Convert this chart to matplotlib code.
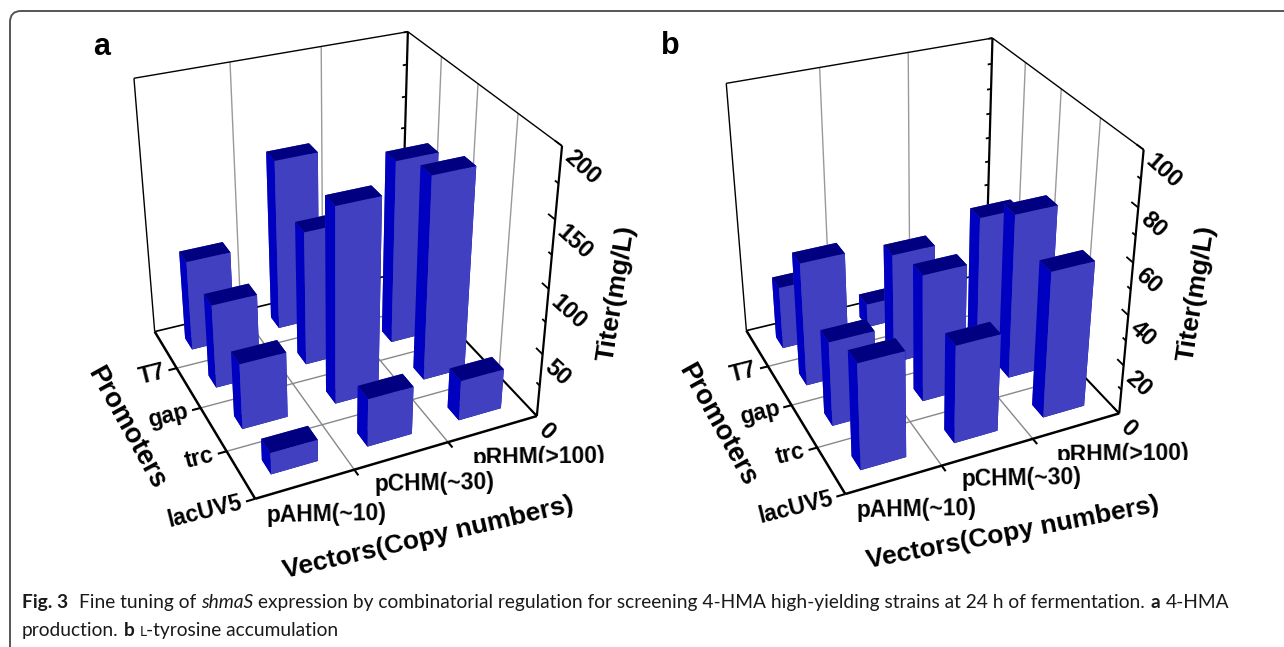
import numpy as np
import matplotlib
matplotlib.use('Agg')
from matplotlib import pyplot as plt
from matplotlib.patches import FancyBboxPatch
from matplotlib.transforms import Bbox
from mpl_toolkits.mplot3d import proj3d

W, H = 1284, 647

vectors = ['pAHM(~10)', 'pCHM(~30)', 'pRHM(>100)']
promoters = ['lacUV5', 'trc', 'gap', 'T7']

# titers per vector, in the order of promoters (no T7 pRHM bar can be seen, so 0)
a_pAHM = [17, 52, 67, 73]
a_pCHM = [38, 152, 107, 137]
a_pRHM = [32, 159, 146, 0]
b_pAHM = [42, 34, 50, 26]
b_pCHM = [39, 51, 45, 10]
b_pRHM = [58, 66, 52, 0]

top_color = '#000080'
side_color = '#0000c0'
front_color = '#4040c0'
bw, bd = 0.48, 0.31

plt.rcParams['font.family'] = 'Liberation Sans'
plt.rcParams['font.weight'] = 'bold'

fig = plt.figure(figsize=(W/100, H/100), dpi=100)

page = fig.add_axes([0, 0, 1, 1])
page.set_xlim(0, W)
page.set_ylim(H, 0)
page.axis('off')
page.add_patch(FancyBboxPatch((20, 21), W + 40, H + 40, boxstyle='round,pad=10,rounding_size=11',
                              fc='none', ec='#555555', lw=1.4))

def panel(rect, view, zmax, zmajor, zminor, columns, clip):
    l, b, w = rect
    ax = fig.add_axes([l/W, b/H, w/W, w/H], projection='3d')
    ax.set_xlim(0, 3, view_margin=0)
    ax.set_ylim(0, 4, view_margin=0)
    ax.set_zlim(0, zmax, view_margin=0)
    ax.set_box_aspect((1, view[3], view[4]))
    ax.view_init(view[0], view[1])
    ax.set_proj_type('persp', focal_length=view[2])
    ax.set_axis_off()
    ax.patch.set_visible(False)
    ax.computed_zorder = False
    ax.apply_aspect()
    M = ax.get_proj()

    def line(xs, ys, zs, c='black', lw=1.0):
        ax.plot(xs, ys, zs, color=c, lw=lw, clip_on=False, zorder=1, solid_capstyle='butt')

    # ax.text ignores rotation in 3d, so labels go on the page at the projected spot
    def label(x, y, z, s, **kw):
        xs, ys, _ = proj3d.proj_transform(x, y, z, M)
        px, py = ax.transData.transform((xs, ys))
        return page.text(px, H - py, s, rotation_mode='anchor', va='center', **kw)

    for x in [1, 2]:
        line([x, x], [0, 4], [0, 0], '#888888')
        line([x, x], [4, 4], [0, zmax], '#999999')
        line([x, x], [0, -0.12], [0, 0], lw=1.5)
    for y in [1, 2, 3]:
        line([0, 3], [y, y], [0, 0], '#888888')
        line([3, 3], [y, y], [0, zmax], '#999999')
    for y in [0, 1, 2, 3]:
        line([0, -0.09], [y, y], [0, 0], lw=1.5)
    line([0, 3], [4, 4], [0, 0], lw=1.2)
    line([3, 3], [0, 4], [0, 0], lw=1.5)
    line([0, 3], [0, 0], [0, 0], lw=1.8)
    line([0, 0], [0, 4], [0, 0], lw=1.8)
    line([0, 0], [4, 4], [0, zmax])
    line([0, 3], [4, 4], [zmax, zmax])
    line([3, 3], [4, 0], [zmax, zmax])
    line([3, 3], [0, 0], [0, zmax], lw=1.6)
    line([3, 3], [4, 4], [0, zmax], lw=1.6)

    for z in np.arange(0, zmax + zminor, zminor):
        major = z % zmajor == 0
        line([3, 3], [0, 0.16 if major else 0.08], [z, z], lw=1.3)
        line([3, 2.95], [4, 4], [z, z], lw=1.3)
    for z in np.arange(0, zmax + zmajor, zmajor):
        label(2.95, -0.22, z, str(int(z)), fontsize=17, rotation=-42, ha='left')

    for i, name in enumerate(promoters):
        label(-0.13, i, 0, name, fontsize=16.5, rotation=14, ha='right')
    for i, name in enumerate(vectors):
        t = label([0.01, 0.08, 0.09][i] + i, [-0.33, -0.35, -0.42][i], 0, name,
                  fontsize=16.5, rotation=1, ha='left')
        if i == 2:
            t.set_clip_box(Bbox([[0, H - clip[1]], [clip[0], H]]))
            t.set_clip_on(True)

    # back to front, so nearer bars paint over farther ones
    order = 2
    for y in range(3, -1, -1):
        for x in range(2, -1, -1):
            if columns[x][y] > 0:
                ax.bar3d(x + 0.5 - bw/2, y + 0.5 - bd/2, 0, bw, bd, columns[x][y],
                         color=[top_color, top_color, front_color, front_color, side_color, side_color],
                         shade=False, linewidth=0, edgecolor='none', zorder=order)
            order += 1
    return ax

panel((74.7, 136.2, 510.8), (30.40, -114.32, 0.491, 1.001, 0.993), 200, 50, 25,
      [a_pAHM, a_pCHM, a_pRHM], (607, 463))
panel((668.2, 141.4, 498.5), (30.34, -114.39, 0.492, 1.008, 0.996), 100, 20, 10,
      [b_pAHM, b_pCHM, b_pRHM], (1188, 460))

titles = [('a', 102, 47, 0, 22), ('b', 670, 46, 0, 22),
          ('Promoters', 126, 428, -61, 19.5), ('Vectors(Copy numbers)', 428, 538, 13, 19),
          ('Titer(mg/L)', 617, 293, 81, 19),
          ('Promoters', 717, 425, -61, 19.5), ('Vectors(Copy numbers)', 1013, 533, 11, 19),
          ('Titer(mg/L)', 1197, 293, 81, 19)]
for s, x, y, rot, size in titles:
    page.text(x, y, s, fontsize=size, rotation=rot, ha='center', va='center', rotation_mode='anchor')

def caption(x, y, runs):
    r = fig.canvas.get_renderer()
    for s, weight, style, size, gap in runs:
        t = page.text(x, y, s, fontsize=size, fontweight=weight, fontstyle=style,
                      family='Lato', color='#1a1a1a', va='baseline', ha='left')
        x += t.get_window_extent(r).width + gap

caption(22, 608, [('Fig. 3', 'bold', 'normal', 13.75, 11), ('Fine tuning of', 'normal', 'normal', 13.75, 4.5),
                  ('shmaS', 'normal', 'italic', 13.75, 4.5),
                  ('expression by combinatorial regulation for screening 4-HMA high-yielding strains at 24 h of fermentation.', 'normal', 'normal', 13.75, 6),
                  ('a', 'bold', 'normal', 13.75, 6), ('4-HMA', 'normal', 'normal', 13.75, 0)])
caption(22, 636, [('production.', 'normal', 'normal', 13.75, 5), ('b', 'bold', 'normal', 13.75, 5),
                  ('L', 'normal', 'normal', 10, 0),
                  ('-tyrosine accumulation', 'normal', 'normal', 13.75, 0)])

fig.savefig('out.png', dpi=100)
